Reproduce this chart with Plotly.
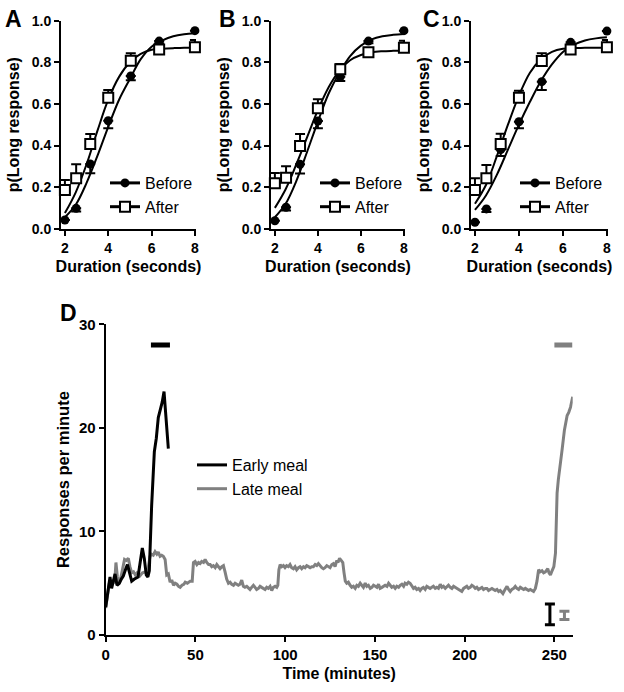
import plotly.graph_objects as go

# durations tested in the bisection task (seconds)
durations = [2.0, 2.52, 3.17, 4.0, 5.04, 6.35, 8.0]
fit_x = [2.0, 2.5, 3.0, 3.5, 4.0, 4.5, 5.0, 5.5, 6.0, 6.5, 7.0, 7.5, 8.0]

# panel A
a_before = [0.042, 0.098, 0.311, 0.519, 0.734, 0.902, 0.952]
a_before_err = [0.0, 0.015, 0.045, 0.036, 0.02, 0.01, 0.0]
a_after = [0.186, 0.242, 0.407, 0.63, 0.808, 0.862, 0.872]
a_after_err = [0.048, 0.068, 0.048, 0.037, 0.035, 0.01, 0.035]
a_fit_before = [0.055, 0.115, 0.22, 0.35, 0.49, 0.62, 0.72, 0.815, 0.875, 0.905, 0.925, 0.935, 0.94]
a_fit_after = [0.075, 0.175, 0.31, 0.47, 0.62, 0.73, 0.80, 0.84, 0.86, 0.865, 0.868, 0.87, 0.87]

# panel B
b_before = [0.038, 0.103, 0.31, 0.518, 0.73, 0.902, 0.952]
b_before_err = [0.0, 0.015, 0.045, 0.035, 0.02, 0.01, 0.0]
b_after = [0.218, 0.245, 0.398, 0.579, 0.766, 0.848, 0.87]
b_after_err = [0.05, 0.055, 0.057, 0.043, 0.026, 0.01, 0.034]
b_fit_before = [0.055, 0.12, 0.23, 0.37, 0.515, 0.65, 0.75, 0.83, 0.88, 0.91, 0.925, 0.932, 0.936]
b_fit_after = [0.1, 0.19, 0.31, 0.44, 0.57, 0.68, 0.76, 0.81, 0.835, 0.848, 0.853, 0.855, 0.856]

# panel C
c_before = [0.031, 0.095, 0.38, 0.514, 0.707, 0.896, 0.95]
c_before_err = [0.0, 0.015, 0.03, 0.031, 0.04, 0.01, 0.0]
c_after = [0.186, 0.242, 0.407, 0.63, 0.806, 0.862, 0.872]
c_after_err = [0.056, 0.064, 0.05, 0.033, 0.037, 0.01, 0.035]
c_fit_before = [0.09, 0.16, 0.26, 0.38, 0.5, 0.61, 0.71, 0.79, 0.85, 0.885, 0.905, 0.915, 0.92]
c_fit_after = [0.12, 0.21, 0.35, 0.5, 0.64, 0.75, 0.815, 0.85, 0.865, 0.868, 0.87, 0.87, 0.87]

# panel D - responses per minute over the session
early_time = [0, 1.2, 2.4, 3.3, 4.3, 5.2, 6.3, 7.6, 8.7, 9.8, 11.0, 12.1, 13.3, 14.5, 16.0,
              18.0, 19.2, 20.4, 21.5, 22.6, 23.5, 24.3, 25.6, 27.1, 28.2, 29.3, 30.5, 31.5,
              32.5, 33.5, 34.9]
early_rate = [2.7, 4.2, 5.6, 4.5, 5.3, 5.9, 4.8, 5.0, 5.4, 5.7, 6.3, 6.8, 6.0, 5.2, 5.4,
              5.6, 7.0, 8.4, 7.4, 5.8, 5.6, 6.2, 12.5, 17.7, 19.0, 21.0, 21.8, 22.5,
              23.5, 21.0, 18.0]

late_time = [0, 1, 2, 3, 4, 5, 5.7, 6.5, 7.2, 8.5, 9.5, 10.5, 11.5, 12.6, 13.5, 14.5, 15.5,
             16.5, 17.5, 19, 20.5, 22, 23.5, 24.7, 25.5, 26.5, 27.5, 28.5, 29.3, 30.3, 31.2,
             32.1, 33.1, 34.0, 34.9, 35.9, 36.8, 37.8, 38.7, 39.7, 40.6, 41.5, 42.5, 43.5,
             44.3, 45.5, 47.1, 48.2, 48.9, 49.8, 50.8, 51.7, 52.6, 53.5, 54.5, 55.4, 56.3,
             57.3, 58.2, 59.1, 60.0, 61.0, 61.9, 62.8, 63.7, 64.7, 65.6, 66.5, 67.4, 68.4,
             69.3, 70.2, 71.2, 72.1, 73.0, 73.9, 74.8, 75.8, 76.7, 77.6, 78.6, 79.5, 80.4,
             81.3, 82.3, 83.2, 84.1, 85.1, 86.0, 86.9, 87.8, 88.8, 89.7, 90.6, 91.6, 92.5,
             93.4, 94.4, 95.3, 95.9, 96.5, 97.2, 98.1, 99.0, 99.9, 100.8, 101.8, 102.7,
             103.6, 104.6, 105.5, 106.4, 107.4, 108.3, 109.2, 110.2, 111.1, 112.0, 113.0,
             113.9, 114.8, 115.7, 116.7, 117.6, 118.5, 119.4, 120.4, 121.3, 122.2, 123.2,
             124.1, 125.0, 126.0, 126.9, 127.8, 128.8, 129.4, 130.3, 131.2, 132.1, 132.8,
             133.5, 134.3, 135.2, 136.2, 137.1, 138.0, 139.0, 139.9, 140.8, 141.8, 142.7,
             143.6, 144.6, 145.5, 146.4, 147.4, 148.3, 149.2, 150.2, 151.1, 152.0, 152.9,
             153.9, 154.8, 155.7, 156.7, 157.6, 158.5, 159.4, 160.4, 161.3, 162.2, 163.2,
             164.1, 165.0, 166.0, 166.8, 167.8, 168.7, 169.6, 170.5, 171.5, 172.4, 173.3,
             174.3, 175.2, 176.1, 177.0, 178.0, 178.9, 179.8, 180.8, 181.7, 182.6, 183.6,
             184.5, 185.4, 186.4, 187.3, 188.2, 189.2, 190.1, 191.0, 192.0, 192.9, 193.8,
             194.7, 195.7, 196.6, 197.5, 198.4, 199.4, 200.3, 201.2, 202.1, 203.1, 204.0,
             204.9, 205.9, 206.8, 207.7, 208.7, 209.6, 210.5, 211.5, 212.4, 213.3, 214.2,
             215.2, 216.1, 217.0, 218.0, 218.9, 219.8, 220.7, 221.3, 222.2, 223.1, 223.6,
             224.5, 225.4, 226.3, 227.3, 228.2, 229.1, 230.1, 231.0, 231.9, 232.9, 233.8,
             234.7, 235.6, 236.6, 237.5, 238.4, 239.4, 240.3, 241.2, 242.1, 243.1, 244.0,
             245.0, 246.3, 247.0, 247.8, 248.7, 249.7, 250.6, 251.0, 251.5, 252.2, 253.0,
             254.3, 255.6, 256.5, 257.1, 258.0, 259.0, 260.2]
late_rate = [2.6, 3.8, 5.0, 4.6, 5.3, 5.0, 7.0, 5.6, 5.0, 5.6, 6.6, 7.3, 7.2, 7.4, 6.6, 6.0, 6.1,
             5.8, 6.0, 5.7, 6.0, 6.1, 6.3, 7.6, 7.8, 7.7, 8.05, 7.8, 8.0, 7.6, 7.7,
             7.6, 7.3, 5.8, 5.9, 5.1, 5.3, 4.8, 5.0, 4.9, 4.7, 4.6, 4.8, 4.9,
             5.1, 5.0, 5.2, 5.2, 7.0, 7.1, 6.8, 7.0, 6.9, 7.1, 7.0, 7.3, 7.0,
             6.8, 6.8, 6.6, 6.7, 6.5, 6.8, 6.6, 6.4, 6.6, 6.7, 6.1, 5.4, 5.0,
             5.1, 4.9, 4.8, 5.0, 4.9, 4.8, 4.9, 5.3, 4.7, 4.6, 4.7, 4.5, 4.4,
             4.6, 4.8, 4.6, 4.4, 4.5, 4.7, 4.6, 4.5, 4.4, 4.6, 4.5, 4.7, 4.3,
             4.6, 4.7, 4.6, 4.8, 6.3, 6.8, 6.6, 6.7, 6.5, 6.7, 6.6, 6.8,
             6.5, 6.4, 6.6, 6.3, 6.5, 6.6, 6.4, 6.6, 6.5, 6.7, 6.6,
             6.5, 6.6, 6.6, 6.8, 6.7, 6.9, 6.7, 6.5, 6.4, 6.5, 6.7,
             6.6, 6.5, 6.8, 6.9, 6.6, 7.2, 7.0, 7.4, 7.2, 7.0, 6.0,
             5.2, 5.0, 5.1, 4.8, 4.6, 4.7, 4.5, 4.8, 4.7, 5.0, 4.8,
             4.6, 5.0, 4.7, 4.8, 4.5, 4.6, 4.8, 4.7, 4.6, 4.9, 4.5,
             4.6, 4.7, 4.8, 4.7, 5.0, 4.8, 4.6, 4.7, 4.5, 4.7, 4.6,
             4.8, 4.9, 4.7, 5.0, 4.9, 5.1, 5.0, 4.7, 4.5, 4.6, 4.4,
             4.5, 4.3, 4.5, 4.6, 4.4, 4.7, 4.6, 4.5, 4.6, 4.7, 4.5,
             4.6, 4.5, 4.9, 4.6, 4.7, 4.5, 4.7, 4.8, 4.6, 4.5, 4.7,
             4.6, 4.5, 4.4, 4.3, 4.2, 4.5, 4.6, 4.7, 4.5, 4.6, 4.8,
             4.7, 4.5, 4.6, 4.4, 4.5, 4.6, 4.4, 4.5, 4.5, 4.3, 4.4,
             4.5, 4.4, 4.3, 4.4, 4.2, 4.3, 4.1, 4.0, 4.3, 4.5, 4.7,
             4.4, 4.2, 4.4, 4.5, 4.7, 4.5, 4.4, 4.6, 4.5, 4.4, 4.5,
             4.4, 4.3, 4.4, 4.3, 4.2, 4.5, 5.2, 6.3, 6.1, 6.2, 6.0,
             6.1, 6.4, 6.0, 5.8, 6.2, 6.6, 7.9, 10.0, 13.7, 15.0, 16.3,
             17.9, 19.8, 20.5, 21.2, 21.5, 22.0, 23.0]

# meal periods (bars at top) and mean SEM bars
meal_level = 28
early_meal_span = [25.2, 35.8]
late_meal_span = [250.0, 260.0]
sem_time = [247.5, 255.6]
sem_mid = [2.0, 1.9]
sem_half = [1.0, 0.4]

BLACK = "black"
GREY = "#808080"
FONT = "Liberation Sans, Arial, sans-serif"

fig = go.Figure()


def add_psych_panel(xa, ya, legend_name, before, before_err, after, after_err, fit_b, fit_a):
    fig.add_trace(go.Scatter(x=fit_x, y=fit_b, mode="lines", line=dict(color=BLACK, width=2, shape="spline"),
                             xaxis=xa, yaxis=ya, showlegend=False, cliponaxis=False))
    fig.add_trace(go.Scatter(x=fit_x, y=fit_a, mode="lines", line=dict(color=BLACK, width=2, shape="spline"),
                             xaxis=xa, yaxis=ya, showlegend=False, cliponaxis=False))
    fig.add_trace(go.Scatter(x=durations, y=before, mode="markers",
                             marker=dict(symbol="circle", size=9, color=BLACK),
                             error_y=dict(type="data", symmetric=False, array=[0] * len(before),
                                          arrayminus=before_err, color=BLACK, thickness=2, width=5),
                             xaxis=xa, yaxis=ya, showlegend=False, cliponaxis=False))
    fig.add_trace(go.Scatter(x=durations, y=after, mode="markers",
                             marker=dict(symbol="square", size=10, color="white", line=dict(color=BLACK, width=2)),
                             error_y=dict(type="data", symmetric=False, array=after_err,
                                          arrayminus=[0] * len(after), color=BLACK, thickness=2, width=5),
                             xaxis=xa, yaxis=ya, showlegend=False, cliponaxis=False))
    # legend entries
    fig.add_trace(go.Scatter(x=[None], y=[None], mode="lines+markers", name="Before",
                             line=dict(color=BLACK, width=3), marker=dict(symbol="circle", size=9, color=BLACK),
                             xaxis=xa, yaxis=ya, legend=legend_name))
    fig.add_trace(go.Scatter(x=[None], y=[None], mode="lines+markers", name="After",
                             line=dict(color=BLACK, width=3),
                             marker=dict(symbol="square", size=10, color="white", line=dict(color=BLACK, width=2)),
                             xaxis=xa, yaxis=ya, legend=legend_name))


add_psych_panel("x", "y", "legend", a_before, a_before_err, a_after, a_after_err, a_fit_before, a_fit_after)
add_psych_panel("x2", "y2", "legend2", b_before, b_before_err, b_after, b_after_err, b_fit_before, b_fit_after)
add_psych_panel("x3", "y3", "legend3", c_before, c_before_err, c_after, c_after_err, c_fit_before, c_fit_after)

# panel D
fig.add_trace(go.Scatter(x=late_time, y=late_rate, mode="lines", name="Late meal",
                         line=dict(color=GREY, width=3), xaxis="x4", yaxis="y4", legend="legend4"))
fig.add_trace(go.Scatter(x=early_time, y=early_rate, mode="lines", name="Early meal",
                         line=dict(color=BLACK, width=3), xaxis="x4", yaxis="y4", legend="legend4"))
fig.add_trace(go.Scatter(x=early_meal_span, y=[meal_level] * 2, mode="lines", line=dict(color=BLACK, width=5),
                         xaxis="x4", yaxis="y4", showlegend=False, cliponaxis=False))
fig.add_trace(go.Scatter(x=late_meal_span, y=[meal_level] * 2, mode="lines", line=dict(color=GREY, width=5),
                         xaxis="x4", yaxis="y4", showlegend=False, cliponaxis=False))
for i, col in enumerate([BLACK, GREY]):
    fig.add_trace(go.Scatter(x=[sem_time[i]], y=[sem_mid[i]], mode="markers",
                             marker=dict(size=1, color="rgba(0,0,0,0)"),
                             error_y=dict(type="data", array=[sem_half[i]], color=col, thickness=3, width=5),
                             xaxis="x4", yaxis="y4", showlegend=False))

axis_common = dict(showline=True, linewidth=2, linecolor=BLACK, ticks="outside", ticklen=5, tickwidth=2,
                   tickcolor=BLACK, showgrid=False, zeroline=False, automargin=False,
                   tickfont=dict(family=FONT, size=14, color=BLACK, weight="bold"),
                   title_font=dict(family=FONT, size=16, color=BLACK, weight="bold"))

x_doms = [[61 / 624, 196 / 624], [271 / 624, 405 / 624], [471 / 624, 608 / 624]]
y_dom = [463.3 / 692, 671.3 / 692]
layout = dict(template="none", width=624, height=692, margin=dict(l=0, r=0, t=0, b=0, autoexpand=False),
              paper_bgcolor="white", plot_bgcolor="white", showlegend=True)
for i, dom in enumerate(x_doms):
    sfx = "" if i == 0 else str(i + 1)
    layout["xaxis" + sfx] = dict(axis_common, domain=dom, anchor="y" + sfx, range=[1.82, 8.05],
                                 tickvals=[2, 4, 6, 8], title=dict(text="Duration (seconds)", standoff=6))
    layout["yaxis" + sfx] = dict(axis_common, domain=y_dom, anchor="x" + sfx, range=[0, 1],
                                 tickvals=[0, 0.2, 0.4, 0.6, 0.8, 1.0], tickformat=".1f",
                                 title=dict(text="p(Long response)", standoff=8))
    legend_key = "legend" if i == 0 else "legend" + str(i + 1)
    layout[legend_key] = dict(x=(dom[0] * 624 + 44) / 624, y=1 - 166 / 692, xanchor="left", yanchor="top",
                              bgcolor="rgba(0,0,0,0)", tracegroupgap=0,
                              font=dict(family=FONT, size=16, color=BLACK))

layout["xaxis4"] = dict(axis_common, domain=[105.7 / 624, 572.7 / 624], anchor="y4", range=[0, 260.2],
                        tickvals=[0, 50, 100, 150, 200, 250], tickfont=dict(family=FONT, size=15, color=BLACK, weight="bold"),
                        title=dict(text="Time (minutes)", standoff=6))
layout["yaxis4"] = dict(axis_common, domain=[57 / 692, 367.7 / 692], anchor="x4", range=[0, 30],
                        tickvals=[0, 10, 20, 30], tickfont=dict(family=FONT, size=15, color=BLACK, weight="bold"),
                        title=dict(text="Responses per minute", standoff=5, font=dict(family=FONT, size=16.5, weight="bold")))
layout["legend4"] = dict(x=192 / 624, y=1 - 448 / 692, xanchor="left", yanchor="top", traceorder="reversed",
                         bgcolor="rgba(0,0,0,0)", tracegroupgap=0, font=dict(family=FONT, size=16, color=BLACK))

fig.update_layout(**layout)

# panel letters
for letter, px, py in [("A", 3, 4), ("B", 217, 4), ("C", 421, 4), ("D", 58, 298)]:
    fig.add_annotation(text=letter, x=px / 624, y=1 - py / 692, xref="paper", yref="paper",
                       xanchor="left", yanchor="top", showarrow=False,
                       font=dict(family=FONT, size=23, color=BLACK, weight="bold"))

# drop the browser's default page margin so the figure sits at the window origin
fig.write_html("out.html", config={"displayModeBar": False},
               post_script="document.body.style.margin='0';")
